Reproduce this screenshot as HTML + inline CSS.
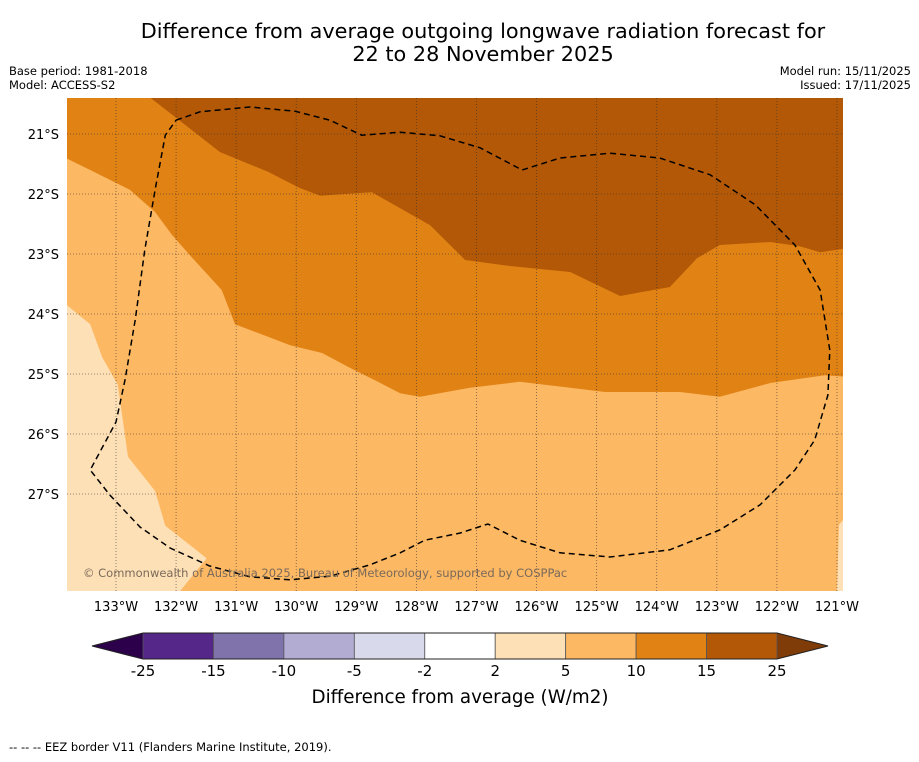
<!DOCTYPE html>
<html><head><meta charset="utf-8"><style>
body{margin:0;background:#fff;font-family:"DejaVu Sans","Liberation Sans",sans-serif}
</style></head><body>
<svg width="919" height="758" xmlns="http://www.w3.org/2000/svg" font-family="DejaVu Sans, Liberation Sans, sans-serif">
<text x="483" y="38" font-size="20.8" text-anchor="middle">Difference from average outgoing longwave radiation forecast for</text>
<text x="483" y="61" font-size="20.8" text-anchor="middle">22 to 28 November 2025</text>
<text x="9" y="75" font-size="11.5">Base period: 1981-2018</text>
<text x="9" y="89" font-size="11.5">Model: ACCESS-S2</text>
<text x="911" y="75" font-size="11.5" text-anchor="end">Model run: 15/11/2025</text>
<text x="911" y="89" font-size="11.5" text-anchor="end">Issued: 17/11/2025</text>
<defs><clipPath id="mc"><rect x="67" y="98" width="776" height="493"/></clipPath></defs>
<g id="map" clip-path="url(#mc)"></g>
<g id="axes"></g>
<text x="83" y="577" font-size="11.5" fill="#7a6a5a">© Commonwealth of Australia 2025, Bureau of Meteorology, supported by COSPPac</text>
<g id="cbar"></g>
<text x="460" y="703" font-size="18.3" text-anchor="middle">Difference from average (W/m2)</text>
<text x="9" y="751" font-size="11.5">-- -- -- EEZ border V11 (Flanders Marine Institute, 2019).</text>
</svg>
<script>
const lonTicks=[133,132,131,130,129,128,127,126,125,124,123,122,121];
const latTicks=[21,22,23,24,25,26,27];
const cbLevels=[-25,-15,-10,-5,-2,2,5,10,15,25];
const cbColors=["#542788","#8073ac","#b2abd2","#d8daeb","#ffffff","#fee0b6","#fdb863","#e08214","#b35806"];
const lightRegion=[[133.9,23.8],[133.82,23.85],[133.43,24.17],[133.23,24.72],[132.97,25.18],[132.8,26.38],[132.35,26.95],[132.18,27.53],[131.49,28.07],[132.0,28.7],[133.9,28.7]];
const midRegion=[[133.9,21.37],[133.43,21.6],[132.77,21.93],[132.35,22.3],[132.07,22.68],[131.77,23.02],[131.24,23.6],[131.02,24.17],[130.6,24.33],[130.1,24.52],[129.57,24.65],[129.1,24.9],[128.64,25.13],[128.27,25.32],[127.94,25.38],[127.11,25.23],[126.28,25.13],[125.44,25.23],[124.86,25.3],[123.61,25.3],[122.95,25.38],[122.11,25.15],[121.2,25.02],[120.8,25.05],[120.8,20.3],[133.9,20.3]];
const darkRegion=[[132.55,20.3],[132.0,20.73],[131.27,21.3],[130.47,21.63],[129.94,21.9],[129.6,22.03],[129.19,22.0],[128.74,21.97],[127.77,22.52],[127.19,23.1],[126.44,23.2],[125.44,23.3],[124.61,23.7],[123.78,23.55],[123.33,23.07],[122.95,22.85],[122.11,22.8],[121.62,22.87],[121.28,22.97],[120.8,22.9],[120.8,20.3]];
const eez=[[132.0,20.77],[131.6,20.63],[130.77,20.55],[130.02,20.62],[129.44,20.77],[128.91,21.02],[128.27,20.97],[127.61,21.03],[126.94,21.23],[126.24,21.6],[125.61,21.4],[124.78,21.32],[123.95,21.4],[123.11,21.68],[122.36,22.18],[121.7,22.85],[121.28,23.6],[121.12,24.6],[121.15,25.35],[121.37,26.1],[121.7,26.6],[122.28,27.18],[122.95,27.6],[123.78,27.93],[124.78,28.05],[125.61,27.98],[126.28,27.77],[126.81,27.5],[127.27,27.65],[127.86,27.77],[128.27,27.98],[128.77,28.18],[129.44,28.37],[130.1,28.43],[130.77,28.38],[131.44,28.2],[132.1,27.9],[132.6,27.55],[133.1,27.02],[133.43,26.6],[133.0,25.8],[132.85,25.1],[132.68,24.1],[132.52,22.93],[132.35,21.93],[132.18,21.02],[132.0,20.77]];
const NS="http://www.w3.org/2000/svg";
const X=lon=>116+(133-lon)*60.08, Y=lat=>134+(lat-21)*60;
function mk(t,a,p){const e=document.createElementNS(NS,t);for(const k in a)e.setAttribute(k,a[k]);p.appendChild(e);return e;}
const map=document.getElementById('map'),ax=document.getElementById('axes'),cb=document.getElementById('cbar');
const pts=a=>a.map(p=>X(p[0]).toFixed(1)+','+Y(p[1]).toFixed(1)).join(' ');
const bg=mk('rect',{x:67,y:98,width:776,height:493,fill:cbColors[6]},map);


const lr=mk('polygon',{points:pts(lightRegion),fill:cbColors[5]},map);


const mr=mk('polygon',{points:pts(midRegion),fill:cbColors[7]},map);


const dr=mk('polygon',{points:pts(darkRegion),fill:cbColors[8]},map);


const sl=mk('polygon',{points:'839,525 843,520 843,591 837,591',fill:cbColors[5]},map);


lonTicks.forEach(l=>{const g=mk('line',{x1:X(l),x2:X(l),y1:98,y2:591,stroke:'#333','stroke-width':0.8,'stroke-dasharray':'1,2','stroke-opacity':0.7},map);


const t=mk('text',{x:X(l),y:611,'font-size':13,'text-anchor':'middle'},ax);t.textContent=l+'°W';

});
latTicks.forEach(l=>{const g=mk('line',{x1:67,x2:843,y1:Y(l),y2:Y(l),stroke:'#333','stroke-width':0.8,'stroke-dasharray':'1,2','stroke-opacity':0.7},map);


const t=mk('text',{x:59,y:Y(l)+5,'font-size':13,'text-anchor':'end'},ax);t.textContent=l+'°S';

});
const ez=mk('polyline',{points:pts(eez),fill:'none',stroke:'#000','stroke-width':1.5,'stroke-dasharray':'6,4'},map);


const cx0=143,cx1=777,cy=633,ch=26,bw=(cx1-cx0)/cbColors.length;
const lt=mk('polygon',{points:`92,646 ${cx0},${cy} ${cx0},${cy+ch}`,fill:'#2d004b'},cb);


const rt=mk('polygon',{points:`828,646 ${cx1},${cy} ${cx1},${cy+ch}`,fill:'#7f3b08'},cb);


cbColors.forEach((c,i)=>{const r=mk('rect',{x:cx0+i*bw,y:cy,width:bw,height:ch,fill:c,stroke:'#555','stroke-width':0.8},cb);

});
mk('polygon',{points:`92,646 ${cx0},${cy} ${cx1},${cy} 828,646 ${cx1},${cy+ch} ${cx0},${cy+ch}`,fill:'none',stroke:'#222','stroke-width':1},cb);
cbLevels.forEach((v,i)=>{const t=mk('text',{x:cx0+i*bw,y:676,'font-size':15,'text-anchor':'middle'},cb);t.textContent=v;

});
</script>
</body></html>
